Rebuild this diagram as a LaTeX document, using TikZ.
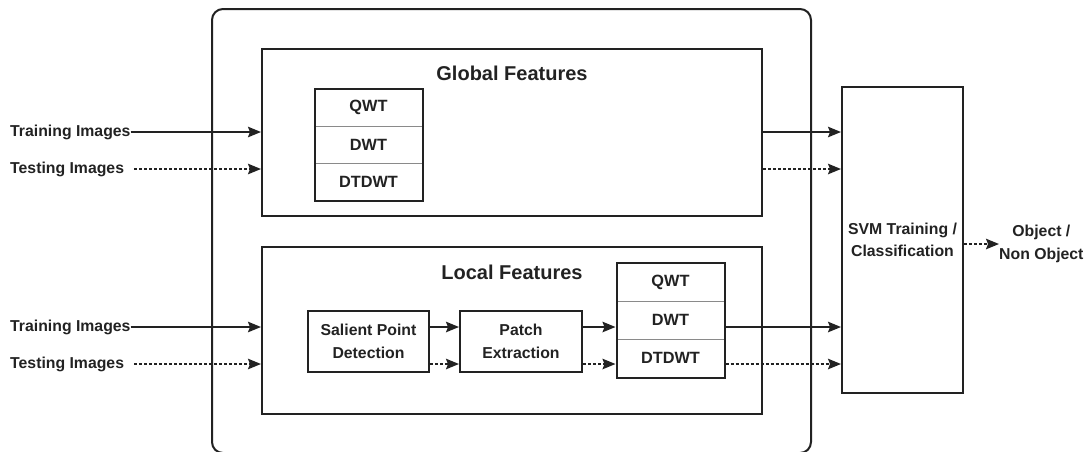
\documentclass[tikz,border=0pt]{standalone}
\usepackage{fontspec}
\setmainfont{Liberation Sans}
\usetikzlibrary{arrows.meta,fit,positioning}
\definecolor{ink}{HTML}{222222}
\definecolor{rule}{HTML}{8A8A8A}
\tikzset{
  txt/.style={font=\fontsize{15.8}{22.5}\selectfont\bfseries, text=ink, align=center},
  frame/.style={draw=ink, line width=2pt},
  blockbox/.style={frame, txt, inner sep=0pt},
  cell/.style={txt, draw=rule, line width=1pt, minimum width=107pt, inner sep=0pt, font=\fontsize{16.3}{20}\selectfont\bfseries},
  arr/.style={draw=ink, line width=1.7pt, -{Stealth[length=13pt,width=10.5pt,inset=2pt]}},
  darr/.style={arr, dash pattern=on 3pt off 2pt},
}
\begin{document}
\begin{tikzpicture}[x=1pt,y=-1pt]
\useasboundingbox (0,0) rectangle (1086,451);

% enclosing frame and the two feature blocks
\node[frame, rounded corners=11pt, minimum width=599pt, minimum height=444pt] (outer) at (511.5,231) {};
\node[frame, minimum width=500pt, minimum height=167pt] (gbox) at (512,132.5) {};
\node[frame, minimum width=500pt, minimum height=167pt] (lbox) at (512,330.5) {};
\node[txt, font=\fontsize{20}{24}\selectfont\bfseries] (gtitle) at (512,73) {Global Features};
\node[txt, font=\fontsize{20}{24}\selectfont\bfseries] (ltitle) at (512,272) {Local Features};

% global transform table
\node[cell, minimum height=37pt] (gq) at (368.5,107.5) {QWT};
\node[cell, minimum height=37pt] (gd) at (368.5,144.5) {DWT};
\node[cell, minimum height=37pt] (gt) at (368.5,181.5) {DTDWT};
\node[frame, fit=(gq)(gt), inner sep=0pt] (gtab) {};

% local pipeline
\node[blockbox, minimum width=121pt, minimum height=61pt] (sal) at (368.5,341.5) {Salient Point\\Detection};
\node[blockbox, minimum width=122pt, minimum height=61pt] (pat) at (521,341.5) {Patch\\Extraction};
\node[cell, minimum height=38pt] (lq) at (670.5,282) {QWT};
\node[cell, minimum height=38pt] (ld) at (670.5,320) {DWT};
\node[cell, minimum height=38pt] (lt) at (670.5,358) {DTDWT};
\node[frame, fit=(lq)(lt), inner sep=0pt] (ltab) {};

% classifier and output
\node[blockbox, minimum width=121pt, minimum height=306pt] (svm) at (902.5,240) {SVM Training /\\Classification};
\node[txt, anchor=west, inner sep=0pt] (out) at (999,244) {Object /\\Non Object};

% input labels
\node[txt, anchor=west, inner sep=0pt] (tr1) at (10,132) {Training Images};
\node[txt, anchor=west, inner sep=0pt] (te1) at (10,169) {Testing Images};
\node[txt, anchor=west, inner sep=0pt] (tr2) at (10,327) {Training Images};
\node[txt, anchor=west, inner sep=0pt] (te2) at (10,364) {Testing Images};

\coordinate (ys) at (0,327);
\coordinate (yd) at (0,364);
\coordinate (gs) at (0,132);
\coordinate (gdash) at (0,169);

% inputs into the feature blocks
\draw[arr] (tr1.east) -- (tr1.east -| gbox.west);
\draw[darr] ([xshift=10pt]te1.east) -- (te1.east -| gbox.west);
\draw[arr] (tr2.east) -- (tr2.east -| lbox.west);
\draw[darr] ([xshift=10pt]te2.east) -- (te2.east -| lbox.west);

% local pipeline links
\draw[arr] (sal.east |- ys) -- (pat.west |- ys);
\draw[darr] (sal.east |- yd) -- (pat.west |- yd);
\draw[arr] (pat.east |- ys) -- (ltab.west |- ys);
\draw[darr] (pat.east |- yd) -- (ltab.west |- yd);

% features into the classifier
\draw[arr] (gbox.east |- gs) -- (svm.west |- gs);
\draw[darr] (gbox.east |- gdash) -- (svm.west |- gdash);
\draw[arr] (ltab.east |- ys) -- (svm.west |- ys);
\draw[darr] (ltab.east |- yd) -- (svm.west |- yd);

% decision
\draw[darr] (svm.east |- out.west) -- (out.west);
\end{tikzpicture}
\end{document}
